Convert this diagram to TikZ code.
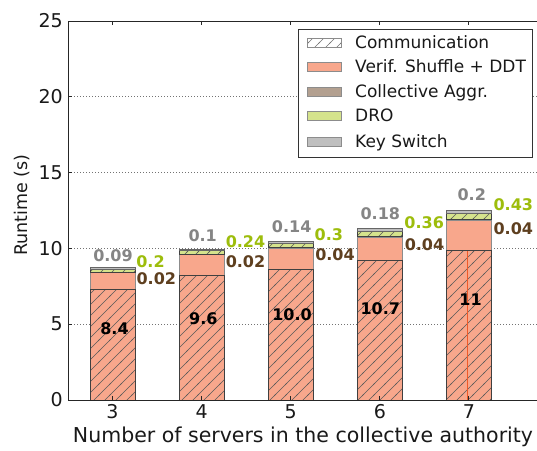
\documentclass[tikz,border=0pt]{standalone}
\usepackage{fontspec}
\setmainfont{DejaVu Sans}
\usetikzlibrary{patterns.meta}
\definecolor{salmon}{HTML}{F8A78C}
\definecolor{aggr}{HTML}{B3A090}
\definecolor{dro}{HTML}{D5E38C}
\definecolor{kswitch}{HTML}{BFBFBF}
\definecolor{lblgray}{HTML}{858585}
\definecolor{lblgreen}{HTML}{9DBD0C}
\definecolor{lblbrown}{HTML}{5E3F1F}
\definecolor{errline}{HTML}{F05A28}
\tikzdeclarepattern{name=hatchd, type=uncolored,
  bounding box={(-1pt,-1pt) and (12pt,12pt)}, tile size={(11pt,11pt)},
  code={\draw[line width=0.45pt] (-1pt,-1pt) -- (12pt,12pt);}}
\begin{document}
\begin{tikzpicture}[x=1pt,y=1pt,
  baredge/.style={draw=black!45, line width=0.6pt},
  hatchedge/.style={draw=black!75, line width=0.6pt},
  hatchfill/.style={pattern={hatchd}, pattern color=black!65},
  gridline/.style={draw=black!55, line width=0.7pt, dash pattern=on 1pt off 2pt},
  spine/.style={draw=black!85, line width=0.9pt},
  ticklbl/.style={font=\fontsize{19}{19}\selectfont, text=black!90, inner sep=0pt},
  axlbl/.style={font=\fontsize{20.5}{21}\selectfont, text=black!90, inner sep=0pt},
  leglbl/.style={font=\fontsize{17}{17}\selectfont, text=black!90, inner sep=0pt, anchor=base west},
  vlbl/.style={font=\fontsize{16}{16}\selectfont\bfseries, inner sep=0pt, anchor=base},
  legpatch/.style={draw=black!45, line width=0.6pt}]
\useasboundingbox (0,0) rectangle (537,450);
\fill[white] (0,0) rectangle (537,450);
% grid
\foreach \v in {5,10,15,20}
  \draw[gridline] (68,{50+15.16*\v}) -- (538,{50+15.16*\v});
% bars
\begin{scope}[shift={(0,50)}, y=15.16pt]
\foreach \cx/\h/\s/\c/\d/\k in {112.5/7.32/8.42/0.02/0.2/0.09, 201.6/8.20/9.60/0.02/0.24/0.10, 290.7/8.64/10.00/0.04/0.30/0.14, 379.8/9.23/10.73/0.04/0.36/0.18, 468.9/9.85/11.85/0.04/0.43/0.20}{
  \pgfmathsetmacro\xl{\cx-22.5}
  \pgfmathsetmacro\xr{\cx+22.5}
  \pgfmathsetmacro\ya{\s+\c}
  \pgfmathsetmacro\yb{\ya+\d}
  \pgfmathsetmacro\yc{\yb+\k}
  \fill[salmon] (\xl,0) rectangle (\xr,\s);
  \draw[baredge] (\xl,0) rectangle (\xr,\s);
  \fill[hatchfill] (\xl,0) rectangle (\xr,\h);
  \draw[hatchedge] (\xl,0) rectangle (\xr,\h);
  \draw[baredge, fill=aggr] (\xl,\s) rectangle (\xr,\ya);
  \fill[dro] (\xl,\ya) rectangle (\xr,\yb);
  \fill[hatchfill] (\xl,\ya) rectangle (\xr,\yb);
  \draw[hatchedge] (\xl,\ya) rectangle (\xr,\yb);
  \draw[baredge, draw=black!60, fill=kswitch] (\xl,\yb) rectangle (\xr,\yc);
}
\draw[errline, line width=0.7pt] (467,0) -- (467,9.85);
\end{scope}
% spines
\draw[spine] (68,50) rectangle (538.5,429);
\foreach \v in {0,5,...,25}{
  \draw[spine] (68,{50+15.16*\v}) -- (72,{50+15.16*\v});
  \node[ticklbl, anchor=east] (yt\v) at (63,{50+15.16*\v}) {\v};
}
\foreach \cx/\n in {112.5/3, 201.6/4, 290.7/5, 379.8/6, 468.9/7}{
  \draw[spine] (\cx,50) -- (\cx,54);
  \draw[spine] (\cx,429) -- (\cx,425);
  \node[ticklbl, anchor=base] (xt\n) at (\cx,31.7) {\n};
}
\node[axlbl, anchor=base] (xlab) at (303,7.7) {Number of servers in the collective authority};
\node[axlbl, font=\fontsize{17.5}{18}\selectfont, rotate=90] (ylab) at (22,245) {Runtime (s)};
% legend
\draw[draw=black!80, line width=0.8pt, fill=white] (298,293) rectangle (532,421);
\foreach \r/\col/\txt/\nm in {43/white/Communication/lc, 67/salmon/Verif. Shuffle + DDT/lv, 92/aggr/Collective Aggr./la, 116/dro/DRO/ld, 142/kswitch/Key Switch/lk}{
  \draw[legpatch, fill=\col] (307,{450-\r-4.5}) rectangle (341,{450-\r+4.5});
  \node[leglbl] (\nm) at (355,{450-\r-6}) {\txt};
}
\fill[pattern={hatchd}, pattern color=black!55] (307,402.5) rectangle (341,411.5);
\draw[legpatch] (307,402.5) rectangle (341,411.5);
% value labels
\node[vlbl, text=lblgray]  (k3) at (113,189) {0.09};
\node[vlbl, text=lblgreen] (d3) at (150.5,182.7) {0.2};
\node[vlbl, text=lblbrown] (c3) at (156.3,165.7) {0.02};
\node[vlbl, text=black]    (v3) at (114.5,116) {8.4};
\node[vlbl, text=lblgray]  (k4) at (202.7,208.3) {0.1};
\node[vlbl, text=lblgreen] (d4) at (245.5,202.3) {0.24};
\node[vlbl, text=lblbrown] (c4) at (245.5,182.7) {0.02};
\node[vlbl, text=black]    (v4) at (203.3,125.7) {9.6};
\node[vlbl, text=lblgray]  (k5) at (291.7,217.3) {0.14};
\node[vlbl, text=lblgreen] (d5) at (328.8,210) {0.3};
\node[vlbl, text=lblbrown] (c5) at (335,190) {0.04};
\node[vlbl, text=black]    (v5) at (292,129.3) {10.0};
\node[vlbl, text=lblgray]  (k6) at (380.3,230) {0.18};
\node[vlbl, text=lblgreen] (d6) at (424.2,221.7) {0.36};
\node[vlbl, text=lblbrown] (c6) at (424.5,200) {0.04};
\node[vlbl, text=black]    (v6) at (380.3,135.7) {10.7};
\node[vlbl, text=lblgray]  (k7) at (471.7,249) {0.2};
\node[vlbl, text=lblgreen] (d7) at (513.3,240) {0.43};
\node[vlbl, text=lblbrown] (c7) at (513.3,215) {0.04};
\node[vlbl, text=black]    (v7) at (470.5,145) {11};
\end{tikzpicture}
\end{document}
